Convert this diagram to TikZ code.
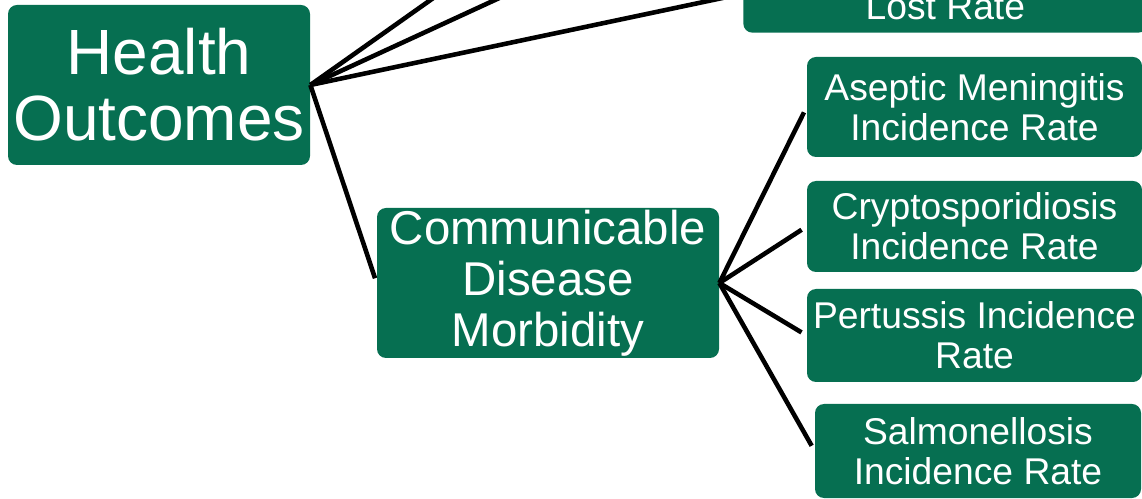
\documentclass[tikz,border=0pt]{standalone}
\usepackage{fontspec}
\setmainfont{Liberation Sans}
\definecolor{tilegreen}{HTML}{066F51}
\newcommand{\pxu}{0.02cm}
\tikzset{
  tile/.style={fill=tilegreen, text=white, rounded corners=0.18cm, align=center, inner sep=0pt},
  topic/.style={tile, font=\fontsize{36.4}{37.6}\selectfont},
  group/.style={tile, font=\fontsize{27}{29}\selectfont},
  measure/.style={tile, font=\fontsize{21.2}{22.8}\selectfont},
  link/.style={draw=black, line width=2.6pt}
}

\begin{document}
\begin{tikzpicture}[x=0.02cm, y=-0.02cm]
  \path[use as bounding box, clip] (0,0) rectangle (1142,499);
  \node[topic, minimum width=302*\pxu, minimum height=160*\pxu] (health) at (159,85) {Health\\Outcomes};
  \node[group, minimum width=342*\pxu, minimum height=150*\pxu] (comm) at (548,283) {Communicable\\Disease\\Morbidity};
  \node[measure, anchor=south west, minimum width=404*\pxu, text height=1.04cm, text depth=0pt, inner ysep=0.26cm] (lost) at (743,33) {Lost Rate};
  \node[measure, minimum width=335*\pxu, minimum height=100*\pxu] (aseptic) at (974.5,107) {Aseptic Meningitis\\Incidence Rate};
  \node[measure, minimum width=335*\pxu, minimum height=91*\pxu] (crypto) at (974.5,226.5) {Cryptosporidiosis\\Incidence Rate};
  \node[measure, minimum width=335*\pxu, minimum height=93*\pxu] (pertussis) at (974.5,335.5) {Pertussis Incidence\\Rate};
  \node[measure, minimum width=326*\pxu, minimum height=94*\pxu] (salmon) at (978,451) {Salmonellosis\\Incidence Rate};
  % branches leaving the picture at the top
  \coordinate (upA) at (480,-35);
  \coordinate (upB) at (571,-35);
  \draw[link] (health.east) -- (upA);
  \draw[link] (health.east) -- (upB);
  \draw[link, shorten >=0.12cm] (health.east) -- (lost.west);
  \draw[link, shorten >=0.1cm] (health.east) -- (comm.west);
  \foreach \m in {aseptic, crypto, pertussis, salmon}
    \draw[link, shorten >=0.12cm] (comm.east) -- (\m.west);
\end{tikzpicture}
\end{document}
